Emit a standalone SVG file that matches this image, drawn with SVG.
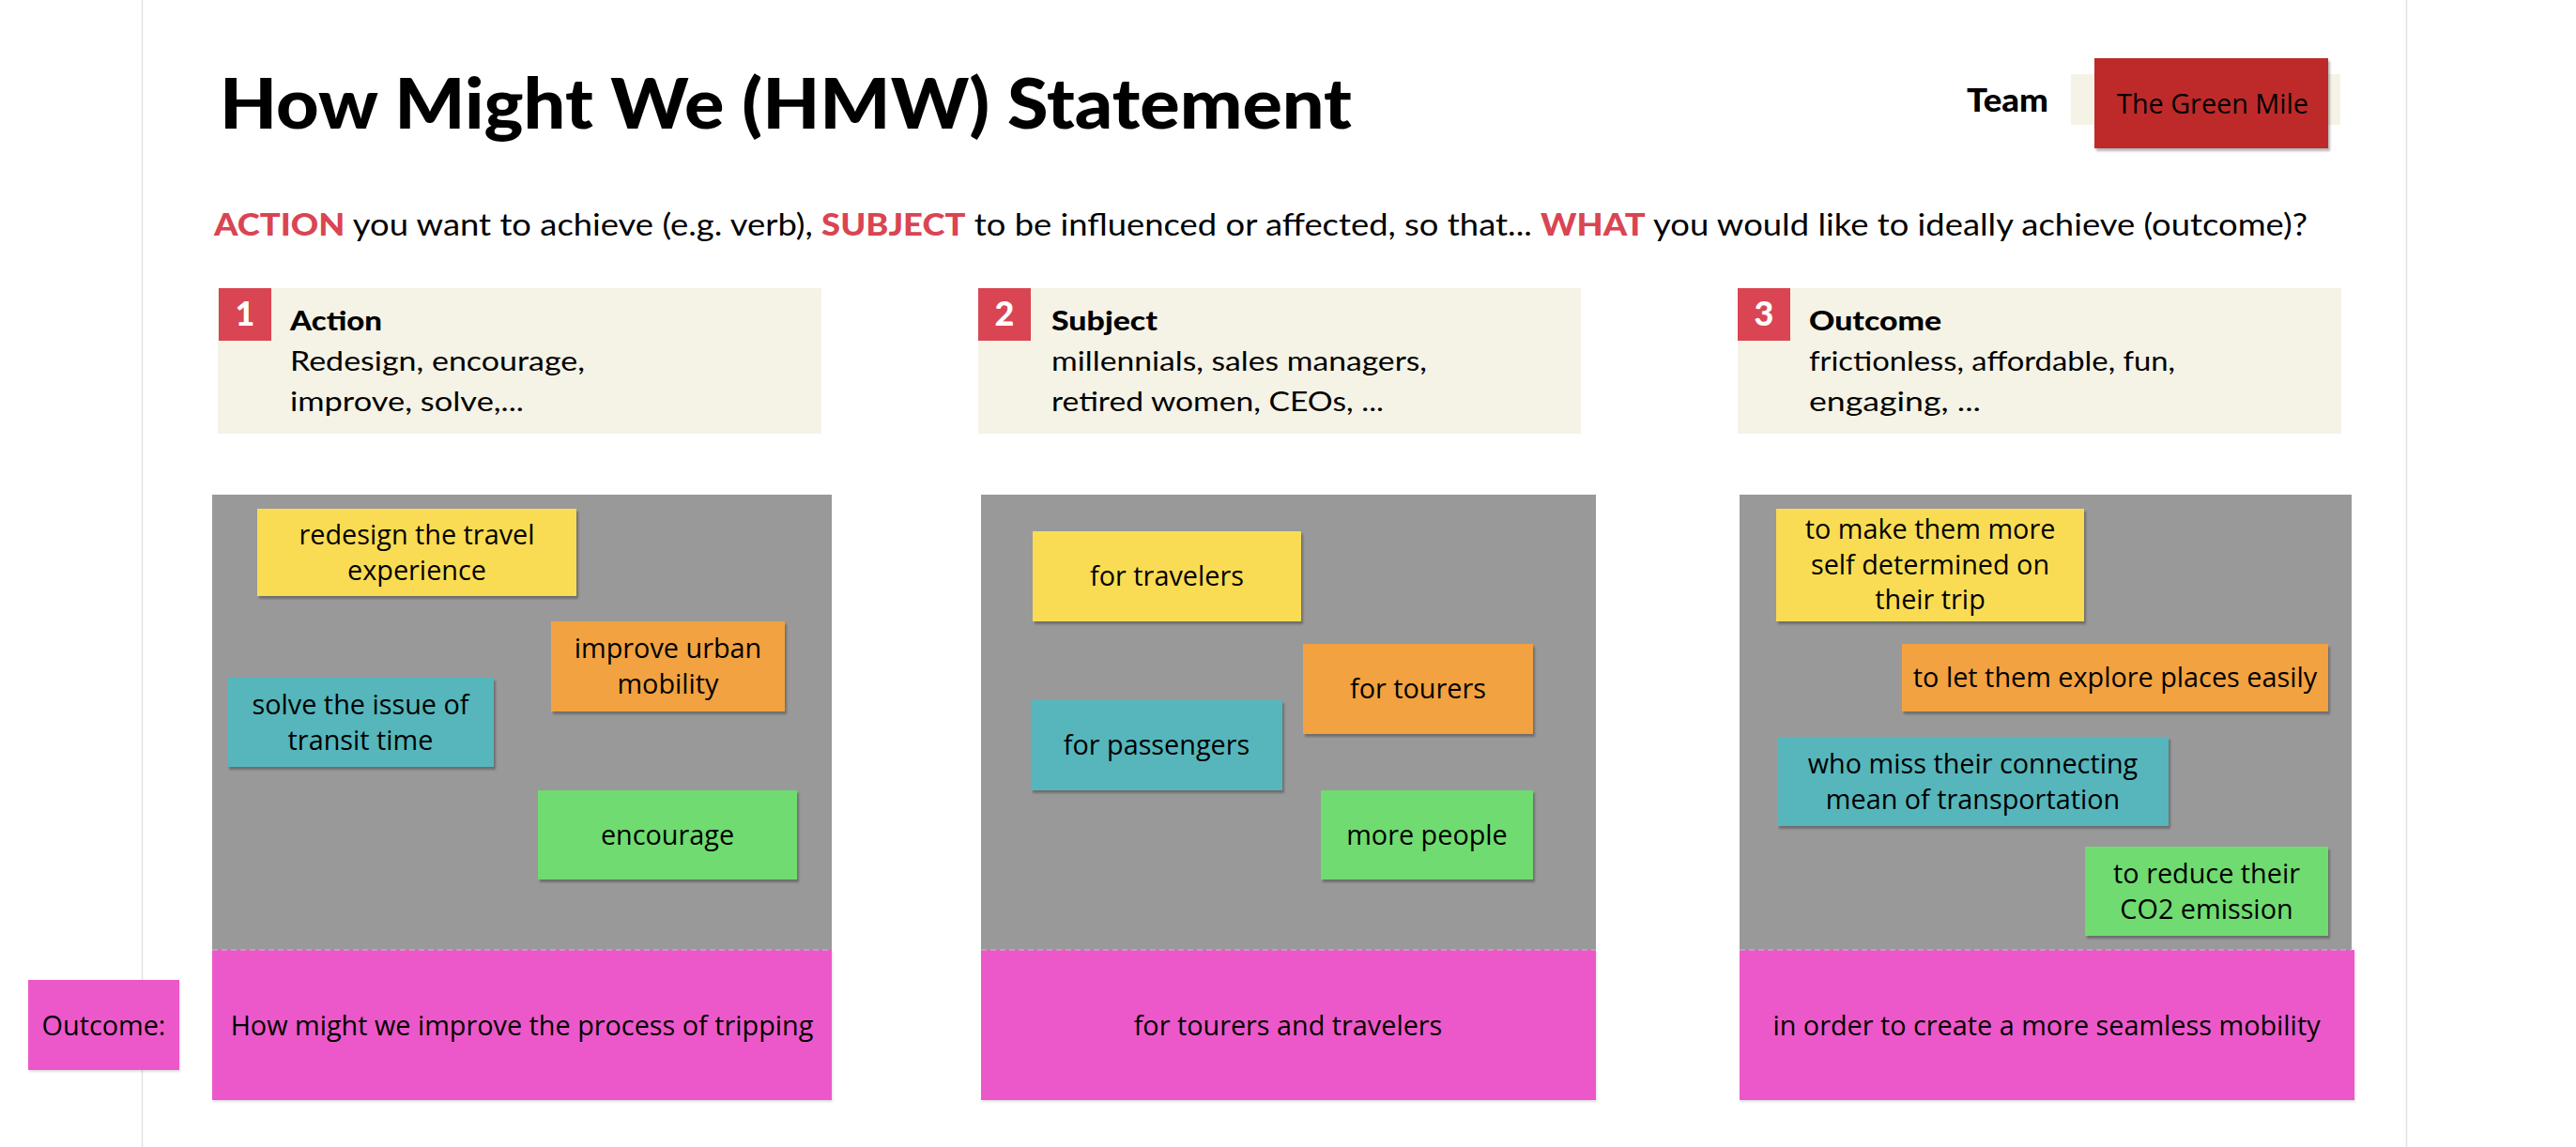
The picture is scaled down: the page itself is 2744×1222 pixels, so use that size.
<svg xmlns="http://www.w3.org/2000/svg" width="2744" height="1222" viewBox="0 0 2744 1222">
<defs>
<filter id="sh" x="-5%" y="-5%" width="115%" height="120%">
<feDropShadow dx="2" dy="3" stdDeviation="1" flood-color="#000" flood-opacity="0.28"/>
</filter>
<filter id="shl" x="-5%" y="-5%" width="115%" height="120%">
<feDropShadow dx="1" dy="2" stdDeviation="1" flood-color="#000" flood-opacity="0.12"/>
</filter>
<style>
.hd{font-family:Lato,"Noto Sans","Liberation Sans",sans-serif;fill:#000;}
.ttl{font-size:75px;font-weight:900;}
.sub{font-size:32px;}
.red{fill:#D94552;font-weight:900;}
.hb{font-size:28px;font-weight:900;}
.hn{font-size:28px;}
.num{font-size:36px;font-weight:900;fill:#fff;text-anchor:middle;}
.cream{fill:#F5F3E6;}
.sq{fill:#D94552;}
.panel{fill:#999999;}
.pink{fill:#EC58C9;filter:url(#shl);}
.st{font-family:"Open Sans","Noto Sans",sans-serif;font-size:28.8px;fill:#000;text-anchor:middle;}
.y{fill:#F9DC52;filter:url(#sh);}
.o{fill:#F2A241;filter:url(#sh);}
.t{fill:#56B6BC;filter:url(#sh);}
.g{fill:#6FDB70;filter:url(#sh);}
.div{stroke:#c7a6c0;stroke-width:1.5;stroke-dasharray:6 4;}
</style>
</defs>
<rect width="2744" height="1222" fill="#fff"/>
<line x1="151.5" y1="0" x2="151.5" y2="1222" stroke="#e2e2e2" stroke-width="1.5"/>
<line x1="2563.5" y1="0" x2="2563.5" y2="1222" stroke="#e2e2e2" stroke-width="1.5"/>

<g id="title">
<text class="hd ttl" x="234" y="137" textLength="1206" lengthAdjust="spacingAndGlyphs">How Might We (HMW) Statement</text>
</g>
<g id="subtitle">
<text class="hd sub" x="228" y="251" textLength="2230" lengthAdjust="spacingAndGlyphs"><tspan class="red">ACTION</tspan> you want to achieve (e.g. verb), <tspan class="red">SUBJECT</tspan> to be influenced or affected, so that... <tspan class="red">WHAT</tspan> you would like to ideally achieve (outcome)?</text>
</g>
<g id="team">
<text class="hd" x="2095" y="119" font-size="34" font-weight="900" textLength="87" lengthAdjust="spacingAndGlyphs">Team</text>
<rect class="cream" x="2206" y="79" width="287" height="54"/>
<rect x="2231" y="62" width="249" height="96" fill="#BE292A" filter="url(#sh)"/>
<text class="st" x="2357" y="121" font-size="29">The Green Mile</text>
</g>

<g id="header-action">
<rect class="cream" x="232" y="307" width="643" height="155"/>
<rect class="sq" x="233" y="307" width="56" height="56"/>
<text class="hd num" x="261" y="347">1</text>
<text class="hd hb" x="309" y="352" textLength="98" lengthAdjust="spacingAndGlyphs">Action</text>
<text class="hd hn" x="309" y="395" textLength="314" lengthAdjust="spacingAndGlyphs">Redesign, encourage,</text>
<text class="hd hn" x="309" y="438" textLength="249" lengthAdjust="spacingAndGlyphs">improve, solve,...</text>
</g>
<g id="header-subject">
<rect class="cream" x="1042" y="307" width="642" height="155"/>
<rect class="sq" x="1042" y="307" width="56" height="56"/>
<text class="hd num" x="1070" y="347">2</text>
<text class="hd hb" x="1120" y="352" textLength="113" lengthAdjust="spacingAndGlyphs">Subject</text>
<text class="hd hn" x="1120" y="395" textLength="400" lengthAdjust="spacingAndGlyphs">millennials, sales managers,</text>
<text class="hd hn" x="1120" y="438" textLength="354" lengthAdjust="spacingAndGlyphs">retired women, CEOs, ...</text>
</g>
<g id="header-outcome">
<rect class="cream" x="1851" y="307" width="643" height="155"/>
<rect class="sq" x="1851" y="307" width="56" height="56"/>
<text class="hd num" x="1879" y="347">3</text>
<text class="hd hb" x="1927" y="352" textLength="141" lengthAdjust="spacingAndGlyphs">Outcome</text>
<text class="hd hn" x="1927" y="395" textLength="390" lengthAdjust="spacingAndGlyphs">frictionless, affordable, fun,</text>
<text class="hd hn" x="1927" y="438" textLength="183" lengthAdjust="spacingAndGlyphs">engaging, ...</text>
</g>

<g id="panel-action">
<rect class="panel" x="226" y="527" width="660" height="485"/>
<rect class="pink" x="226" y="1012" width="660" height="160"/>
<line class="div" x1="226" y1="1012" x2="886" y2="1012"/>
<text class="st" x="556" y="1103">How might we improve the process of tripping</text>
</g>
<g id="panel-subject">
<rect class="panel" x="1045" y="527" width="655" height="485"/>
<rect class="pink" x="1045" y="1012" width="655" height="160"/>
<line class="div" x1="1045" y1="1012" x2="1700" y2="1012"/>
<text class="st" x="1372" y="1103">for tourers and travelers</text>
</g>
<g id="panel-outcome">
<rect class="panel" x="1853" y="527" width="652" height="485"/>
<rect class="pink" x="1853" y="1012" width="655" height="160"/>
<line class="div" x1="1853" y1="1012" x2="2505" y2="1012"/>
<text class="st" x="2180" y="1103">in order to create a more seamless mobility</text>
</g>
<g id="outcome-label">
<rect class="pink" x="30" y="1044" width="161" height="96"/>
<text class="st" x="110.5" y="1103">Outcome:</text>
</g>

<g id="note-a1"><rect class="y" x="274" y="542" width="340" height="93"/><text class="st" x="444" y="580">redesign the travel</text><text class="st" x="444" y="618">experience</text></g>
<g id="note-a2"><rect class="o" x="587" y="662" width="249" height="96"/><text class="st" x="711.5" y="701">improve urban</text><text class="st" x="711.5" y="739">mobility</text></g>
<g id="note-a3"><rect class="t" x="242" y="722" width="284" height="95"/><text class="st" x="384" y="761">solve the issue of</text><text class="st" x="384" y="799">transit time</text></g>
<g id="note-a4"><rect class="g" x="573" y="842" width="276" height="95"/><text class="st" x="711" y="900">encourage</text></g>

<g id="note-s1"><rect class="y" x="1100" y="566" width="286" height="96"/><text class="st" x="1243" y="624">for travelers</text></g>
<g id="note-s2"><rect class="o" x="1388" y="686" width="245" height="96"/><text class="st" x="1510.5" y="744">for tourers</text></g>
<g id="note-s3"><rect class="t" x="1098" y="746" width="268" height="96"/><text class="st" x="1232" y="804">for passengers</text></g>
<g id="note-s4"><rect class="g" x="1407" y="842" width="226" height="95"/><text class="st" x="1520" y="900">more people</text></g>

<g id="note-o1"><rect class="y" x="1892" y="542" width="328" height="120"/><text class="st" x="2056" y="574">to make them more</text><text class="st" x="2056" y="612">self determined on</text><text class="st" x="2056" y="649">their trip</text></g>
<g id="note-o2"><rect class="o" x="2026" y="686" width="454" height="72"/><text class="st" x="2253" y="732">to let them explore places easily</text></g>
<g id="note-o3"><rect class="t" x="1893" y="785" width="417" height="95"/><text class="st" x="2101.5" y="824">who miss their connecting</text><text class="st" x="2101.5" y="862">mean of transportation</text></g>
<g id="note-o4"><rect class="g" x="2221" y="902" width="259" height="95"/><text class="st" x="2350.5" y="941">to reduce their</text><text class="st" x="2350.5" y="979">CO2 emission</text></g>

<g id="connectors"/>
</svg>
